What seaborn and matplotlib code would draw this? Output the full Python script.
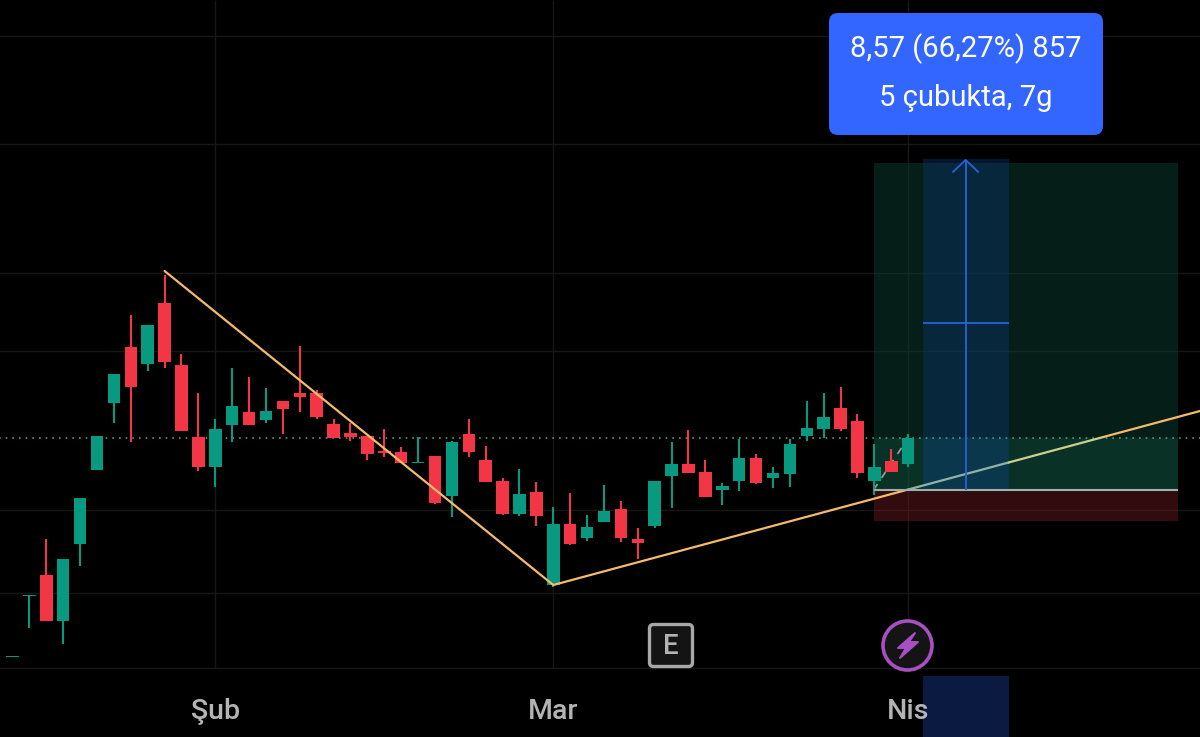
import numpy as np
import pandas as pd
import matplotlib
matplotlib.use("Agg")
import matplotlib.pyplot as plt
from matplotlib.patches import FancyBboxPatch, Circle, Polygon
import seaborn as sns

# Price levels (chart units, no price scale is shown)
opens = [80, 141, 162, 116, 193, 267, 334, 390, 373, 434, 372, 300, 270, 312, 325, 317, 336, 344,
         344, 313, 304, 301, 286, 285, 274, 281, 241, 303, 277, 256, 223, 245, 152, 213, 199, 215,
         228, 198, 211, 261, 273, 265, 247, 256, 279, 259, 263, 301, 308, 329, 316, 256, 276, 273]
highs = [81, 142, 198, 178, 239, 301, 363, 422, 412, 462, 383, 344, 318, 369, 360, 349, 336, 391,
         347, 318, 314, 301, 308, 290, 300, 281, 296, 318, 291, 259, 268, 255, 230, 244, 222, 252,
         236, 209, 256, 295, 307, 277, 254, 298, 283, 270, 298, 336, 344, 350, 323, 293, 288, 303]
lows = [80, 109, 116, 93, 171, 267, 314, 295, 366, 369, 306, 266, 250, 295, 312, 314, 303, 325,
        318, 299, 296, 277, 280, 274, 274, 233, 220, 280, 255, 222, 221, 211, 150, 192, 196, 215,
        195, 178, 209, 229, 264, 240, 232, 246, 253, 249, 250, 296, 299, 306, 259, 242, 265, 270]
closes = [81, 142, 116, 178, 239, 301, 363, 350, 412, 375, 306, 270, 308, 331, 312, 326, 328, 340,
          320, 299, 300, 283, 284, 274, 275, 234, 295, 285, 255, 223, 243, 221, 213, 193, 210, 226,
          199, 194, 256, 273, 264, 240, 251, 279, 254, 264, 293, 309, 320, 308, 264, 270, 265, 299]

tick_positions = [12, 32, 53]
tick_labels = ["Şub", "Mar", "Nis"]
grid_levels = [701, 593, 464, 386, 227, 144, 69]
last_price = 299
entry, target, stop = 247, 574, 216
trend_x = [9, 32, 70.27]
trend_y = [466, 152, 326]
trend_breaks = [53, 58.95, 64.55]
measure_top, measure_mid = 578, 414
measure_x = [53.9, 58.95]
box_x = [50.95, 68.95]
path_x = [50.95, 53]
path_y = [247, 299]
label_lines = ["8,57 (66,27%) 857", "5 çubukta, 7g"]

GREEN, RED = "#089981", "#f23645"
GRID = "#171717"
sns.set_theme(style="dark", rc={"axes.facecolor": "black", "figure.facecolor": "black"})
plt.rcParams["font.family"] = ["Roboto", "DejaVu Sans"]

fig = plt.figure(figsize=(12, 7.37), dpi=100)
ax = fig.add_axes([0, 0, 1, 1])

df = pd.DataFrame({"i": np.arange(len(opens)), "o": opens, "h": highs, "l": lows, "c": closes})
df["up"] = df.c >= df.o
df["bottom"] = df[["o", "c"]].min(axis=1)
df["body"] = (df.o - df.c).abs().clip(lower=1)

# grid
ax.hlines(grid_levels, -1, 71, color=GRID, lw=1, zorder=0)
ax.vlines(tick_positions, grid_levels[-1], 737, color=GRID, lw=1, zorder=0)


def span(x0, x1, y0, y1, color, alpha, z):
    ax.fill_between([x0, x1], [y0, y0], [y1, y1], color=color, alpha=alpha, lw=0, zorder=z)


# position tool
span(box_x[0], box_x[1], entry, target, "#0a3d30", 0.5, 1)
span(box_x[0], box_x[1], stop, entry, "#761a22", 0.43, 1)
span(measure_x[0], measure_x[1], entry, measure_top, "#0a3268", 0.45, 1.5)
span(box_x[0], box_x[1], entry, last_price, "#165f49", 0.3, 1.6)
span(measure_x[0], measure_x[1], entry, last_price, "#0a3a7a", 0.22, 1.7)
span(measure_x[0], measure_x[1], 0, 61, "#0b1a40", 1, 1.5)

# dashed execution path under the candles
ax.plot(path_x, path_y, color="#8b9c96", lw=1.3, ls=(0, (4, 4)), zorder=2.5)

# candles
for up, color in [(True, GREEN), (False, RED)]:
    sub = df[df.up == up]
    ax.vlines(sub.i, sub.l, sub.h, color=color, lw=1.5, zorder=3)
    sns.barplot(data=sub, x="i", y="body", bottom=sub.bottom.values, native_scale=True,
                color=color, saturation=1, width=0.74, errorbar=None, ax=ax, zorder=4, linewidth=0)

# lines
ax.hlines(last_price, -1, 71, color="#4f9a86", lw=1.2, linestyles=(0, (1, 3)), zorder=2)
brk_y = np.interp(trend_breaks, trend_x, trend_y)
sns.lineplot(x=trend_x[:2] + [trend_breaks[0]], y=trend_y[:2] + [brk_y[0]], color="#f5bb6a", lw=1.6,
             ax=ax, zorder=5, sort=False, estimator=None)
sns.lineplot(x=trend_breaks[:2], y=brk_y[:2], color="#8fb3a8", lw=1.6, ax=ax, zorder=5, sort=False, estimator=None)
sns.lineplot(x=trend_breaks[1:], y=brk_y[1:], color="#cbd08c", lw=1.6, ax=ax, zorder=5, sort=False, estimator=None)
sns.lineplot(x=[trend_breaks[2], trend_x[2]], y=[brk_y[2], trend_y[2]], color="#f5bb6a", lw=1.6,
             ax=ax, zorder=5, sort=False, estimator=None)
ax.hlines(entry, box_x[0], box_x[1], color="#9fb0a8", lw=1.5, zorder=6)
ax.hlines(measure_mid, measure_x[0], measure_x[1], color="#2962d8", lw=1.3, zorder=6)
ax.vlines(56.4, entry, measure_top - 1, color="#2962d8", lw=1.3, zorder=6)
ax.plot([55.65, 56.4, 57.15], [565, 577, 565], color="#2962d8", lw=1.3, zorder=6)

ax.set_xlim(-0.74, 70.27)
ax.set_ylim(0, 737)
ax.set_yticks([])
ax.set_xlabel("")
ax.set_ylabel("")
ax.set_axisbelow(False)
ax.set_xticks(tick_positions, tick_labels)
ax.tick_params(axis="x", direction="in", length=0, pad=-28, labelsize=20.5, labelcolor="#b4b4b4")
for t in ax.get_xticklabels():
    t.set_fontweight("medium")
for s in ax.spines.values():
    s.set_visible(False)
ax.grid(False)

# overlay widgets, positioned in screen pixels
ui = fig.add_axes([0, 0, 1, 1], facecolor="none")
ui.set_xlim(0, 1200)
ui.set_ylim(737, 0)
ui.axis("off")
ui.add_patch(FancyBboxPatch((837, 21), 258, 106, boxstyle="round,pad=8,rounding_size=9",
                            fc="#3366ff", ec="none"))
ui.text(966, 49, label_lines[0], color="white", fontsize=21, ha="center", va="center")
ui.text(966, 98, label_lines[1], color="white", fontsize=21, ha="center", va="center")
ui.add_patch(FancyBboxPatch((650.5, 625.5), 41, 40, boxstyle="round,pad=1,rounding_size=4",
                            fc="#141414", ec="#a8a8a8", lw=2.4))
ui.text(671, 646, "E", color="#b4b4b4", fontsize=20, fontweight="medium", ha="center", va="center")
ui.add_patch(Circle((907.5, 645.5), 24.5, fc="#141414", ec="#a84fc4", lw=2.6))
ui.add_patch(Polygon([(915, 633), (898, 648), (906, 648), (900, 658), (918, 642), (909, 642)],
                     closed=True, fc="#a84fc4", ec="#a84fc4", lw=1.4, joinstyle="round"))

fig.savefig("out.png", dpi=100, facecolor="black")
